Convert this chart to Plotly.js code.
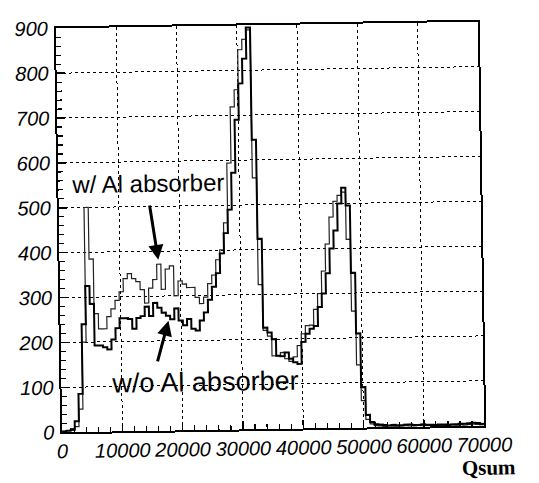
<!DOCTYPE html>
<html>
<head>
<meta charset="utf-8">
<script src="https://cdn.plot.ly/plotly-3.0.1.min.js"></script>
<style>
  html, body { margin: 0; padding: 0; background: #fff; }
  #chart { width: 539px; height: 483px; transform: rotate(-0.9deg); transform-origin: 270px 227px; }
  #chart .xtick text, #chart .ytick text { font-style: italic !important; }
</style>
</head>
<body>
<div id="chart"></div>
<script>
// Qsum spectra: 100 bins of 700 counts each, from 0 to 70000
const binWidth = 700;

// entries per bin, with the Al absorber in place
const qsumWithAl = [
  2, 4, 8, 12, 51, 200, 500, 385, 263, 229,
  229, 256, 273, 292, 311, 340, 351, 340, 333, 315,
  285, 318, 337, 371, 315, 360, 367, 300, 333, 326,
  318, 318, 296, 282, 296, 326, 345, 379, 401, 461,
  594, 719, 757, 846, 869, 890, 560, 322, 220, 207,
  163, 163, 170, 156, 150, 160, 185, 211, 229, 230,
  265, 300, 350, 410, 470, 505, 518, 525, 420, 260,
  140, 60, 18, 8, 4, 3, 2, 3, 2, 2,
  2, 3, 2, 2, 3, 2, 2, 2, 3, 2,
  2, 2, 3, 2, 3, 2, 3, 4, 3, 2
];

// entries per bin, without the absorber
const qsumWithoutAl = [
  2, 3, 5, 24, 85, 240, 325, 285, 192, 192,
  188, 183, 205, 230, 252, 252, 250, 228, 252, 256,
  277, 256, 285, 274, 263, 256, 248, 272, 245, 234,
  248, 226, 222, 244, 262, 290, 319, 349, 393, 438,
  490, 572, 690, 771, 826, 895, 645, 424, 226, 215,
  200, 163, 162, 170, 156, 148, 144, 193, 211, 222,
  228, 270, 300, 345, 400, 440, 500, 535, 495, 345,
  210, 90, 28, 12, 7, 6, 5, 4, 5, 4,
  4, 5, 5, 4, 4, 5, 4, 4, 3, 4,
  4, 3, 4, 4, 5, 5, 6, 7, 6, 4
];

const xTicks = [0, 10000, 20000, 30000, 40000, 50000, 60000, 70000];
const yTicks = [0, 100, 200, 300, 400, 500, 600, 700, 800, 900];

const labelWith = 'w/ Al absorber';
const labelWithout = 'w/o Al absorber';
const xTitle = 'Qsum';

// turn per-bin counts into a histogram outline (left edges + closing edge)
function outline(counts) {
  const xs = [0];
  const ys = [0];
  counts.forEach((c, i) => { xs.push(i * binWidth); ys.push(c); });
  xs.push(counts.length * binWidth);
  ys.push(counts[counts.length - 1]);
  return { xs, ys };
}

const a = outline(qsumWithAl);
const b = outline(qsumWithoutAl);

const traces = [
  {
    x: a.xs, y: a.ys, type: 'scatter', mode: 'lines', name: labelWith,
    line: { shape: 'hv', color: '#222', width: 1.2 }, hoverinfo: 'skip'
  },
  {
    x: b.xs, y: b.ys, type: 'scatter', mode: 'lines', name: labelWithout,
    line: { shape: 'hv', color: '#000', width: 2 }, hoverinfo: 'skip'
  }
];

const tickFont = { family: 'Liberation Sans, Arial, sans-serif', size: 20, color: '#000', style: 'italic' };

const axisCommon = {
  showgrid: true, gridcolor: '#000', griddash: 'dot', gridwidth: 1,
  ticks: 'inside', ticklen: 8, tickwidth: 1.5, tickcolor: '#000',
  showline: true, linecolor: '#000', linewidth: 2, mirror: true,
  zeroline: false, tickfont: tickFont, tickmode: 'array', fixedrange: true
};

const layout = {
  width: 539, height: 483,
  margin: { l: 59, r: 58, t: 25, b: 54 },
  paper_bgcolor: '#fff', plot_bgcolor: '#fff',
  showlegend: false,
  xaxis: Object.assign({}, axisCommon, {
    range: [0, 70000], tickvals: xTicks, ticktext: xTicks.map(String),
    ticklabelstandoff: 0,
    minor: { ticks: 'inside', ticklen: 5, tickwidth: 1.2, tickcolor: '#000', tick0: 0, dtick: 2000, showgrid: false }
  }),
  yaxis: Object.assign({}, axisCommon, {
    range: [0, 900], tickvals: yTicks, ticktext: yTicks.map(String),
    ticklabelstandoff: 2,
    minor: { ticks: 'inside', ticklen: 5, tickwidth: 1.2, tickcolor: '#000', tick0: 0, dtick: 20, showgrid: false }
  }),
  annotations: [
    {
      text: labelWith, xref: 'paper', yref: 'paper', x: 0.212, y: 0.612,
      xanchor: 'center', yanchor: 'middle',
      showarrow: false, font: { family: 'Liberation Sans, Arial, sans-serif', size: 24, color: '#000' }
    },
    {
      text: labelWithout, xref: 'paper', yref: 'paper', x: 0.339, y: 0.12,
      xanchor: 'center', yanchor: 'middle',
      showarrow: false, font: { family: 'Liberation Sans, Arial, sans-serif', size: 27, color: '#000' }
    },
    {
      text: '', xref: 'paper', yref: 'paper', x: 0.234, y: 0.423,
      showarrow: true, arrowhead: 2, arrowsize: 1, arrowwidth: 3, arrowcolor: '#000',
      ax: -8, ay: -56
    },
    {
      text: '', xref: 'paper', yref: 'paper', x: 0.256, y: 0.272,
      showarrow: true, arrowhead: 2, arrowsize: 1, arrowwidth: 3, arrowcolor: '#000',
      ax: -12, ay: 42
    },
    {
      text: '<b>' + xTitle + '</b>', xref: 'paper', yref: 'paper', x: 1.079, y: -0.103,
      xanchor: 'right', yanchor: 'middle', showarrow: false,
      font: { family: 'Liberation Serif, Times New Roman, serif', size: 21, color: '#000' }
    }
  ]
};

Plotly.newPlot('chart', traces, layout, { displayModeBar: false, staticPlot: true });
</script>
</body>
</html>
